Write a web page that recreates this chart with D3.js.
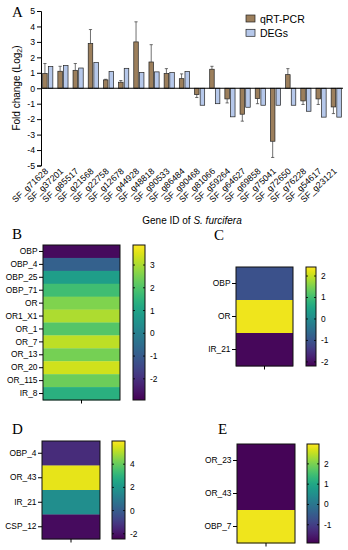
<!DOCTYPE html>
<html><head><meta charset="utf-8">
<script src="https://cdn.jsdelivr.net/npm/d3@7"></script>
<style>body{margin:0;background:#fff}svg{display:block}</style>
</head><body>
<script>
// ---- Panel A data ----
const genes = ["SF_g71628","SF_g37201","SF_g85517","SF_g21568","SF_g22758","SF_g12678","SF_g44928","SF_g48818","SF_g90533","SF_g86484","SF_g90468","SF_g81066","SF_g59264","SF_g64627","SF_g69858","SF_g75041","SF_g72650","SF_g76228","SF_g54617","SF_g23121"];
const qpcr = [0.95,1.1,1.16,2.89,0.54,0.39,3.0,1.7,0.95,0.62,-0.41,1.23,-0.69,-1.68,-0.67,-3.43,0.88,-0.82,-0.69,-1.21];
const qpcrErr = [0.65,0.32,0.44,0.91,0.04,0.11,1.3,1.12,0.32,0.31,0.19,0.19,0.26,0.45,0.33,1.05,0.39,0.23,0.36,0.43];
const degs = [1.4,1.47,1.31,1.66,1.08,1.29,1.01,1.06,1.01,1.08,-1.1,-1.0,-1.85,-1.23,-1.1,-1.1,-1.1,-1.49,-1.87,-1.87];
const seriesNames = ["qRT-PCR","DEGs"];
const yTicksA = [-5,-4,-3,-2,-1,0,1,2,3,4,5];

// ---- Heatmap data ----
const rowsB = ["OBP","OBP_4","OBP_25","OBP_71","OR","OR1_X1","OR_1","OR_7","OR_13","OR_20","OR_115","IR_8"];
const valsB = [-2.75,-0.85,0.85,1.8,2.55,3.05,2.05,3.2,2.45,3.4,2.35,1.4];
const domainB = [-2.93,3.88];
const ticksB = [-2,-1,0,1,2,3];

const rowsC = ["OBP","OR","IR_21"];
const valsC = [-1.05,2.3,-2.1];
const domainC = [-2.19,2.42];
const ticksC = [-2,-1,0,1,2];

const rowsD = ["OBP_4","OR_43","IR_21","CSP_12"];
const valsD = [-1.4,5.7,1.7,-2.2];
const domainD = [-2.45,6.0];
const ticksD = [-2,0,2,4];

const rowsE = ["OR_23","OR_43","OBP_7"];
const valsE = [-1.85,-1.85,2.85];
const domainE = [-1.9,2.98];
const ticksE = [-1,0,1,2];

const W = 348, H = 550;
const FONT = "'Liberation Sans', Arial, sans-serif";
const SERIF = "'Liberation Serif', 'Times New Roman', serif";
const svg = d3.select("body").append("svg").attr("width", W).attr("height", H)
  .style("font-family", FONT);

const colQ = "#9c7f5c", colD = "#b6c8ea";

// ================= Panel A =================
const y = d3.scaleLinear().domain([-5,5]).range([165.5, 11]);
const x0 = d3.scaleBand().domain(genes).range([41, 343]).paddingInner(0.33).paddingOuter(0.11);
const x1 = d3.scaleBand().domain(seriesNames).range([0, x0.bandwidth()]).paddingInner(0.2);

svg.append("text").attr("x", 12).attr("y", 17).attr("font-family", SERIF)
  .attr("font-size", 15).text("A");

const gA = svg.append("g");
const data = genes.map((g,i)=>({g, vals:[qpcr[i], degs[i]], err:qpcrErr[i]}));
const groups = gA.selectAll("g.grp").data(data).join("g").attr("class","grp")
  .attr("transform", d=>`translate(${x0(d.g)},0)`);
groups.selectAll("rect").data(d=>seriesNames.map((s,k)=>({s, v:d.vals[k]}))).join("rect")
  .attr("x", d=>x1(d.s)).attr("width", x1.bandwidth())
  .attr("y", d=>y(Math.max(0,d.v))).attr("height", d=>Math.abs(y(d.v)-y(0)))
  .attr("fill", d=>d.s==="qRT-PCR"?colQ:colD).attr("stroke","#222").attr("stroke-width",0.7);
groups.each(function(d){
  const g = d3.select(this);
  const cx = x1("qRT-PCR") + x1.bandwidth()/2;
  const v = d.vals[0];
  const e = v>=0 ? v + d.err : v - d.err;
  g.append("line").attr("x1",cx).attr("x2",cx).attr("y1",y(v)).attr("y2",y(e))
    .attr("stroke","#333").attr("stroke-width",0.7);
  g.append("line").attr("x1",cx-1.6).attr("x2",cx+1.6).attr("y1",y(e)).attr("y2",y(e))
    .attr("stroke","#333").attr("stroke-width",0.7);
});
gA.append("line").attr("x1",41).attr("x2",343).attr("y1",y(0)).attr("y2",y(0))
  .attr("stroke","#000").attr("stroke-width",1);
const yAx = gA.append("g").attr("transform","translate(41,0)")
  .call(d3.axisLeft(y).tickValues(yTicksA).tickFormat(d=>String(d)).tickSize(4).tickPadding(2));
yAx.selectAll("text").attr("font-size",8.7).attr("fill","#000").attr("font-family",FONT);
yAx.selectAll("line,path").attr("stroke","#000");
yAx.select("path").attr("stroke-width",1);
gA.selectAll("text.xl").data(genes).join("text").attr("class","xl")
  .attr("transform", d=>`translate(${x0(d)+x0.bandwidth()/2+1},172) rotate(-43)`)
  .attr("text-anchor","end").attr("font-size",8.8).text(d=>d);
svg.append("text").attr("x",192).attr("y",224).attr("text-anchor","middle").attr("font-size",10)
  .html('Gene ID of <tspan font-style="italic">S. furcifera</tspan>');
svg.append("text").attr("transform","translate(20,88) rotate(-90)").attr("text-anchor","middle")
  .attr("font-size",10).html('Fold change (Log<tspan font-size="7" dy="2">2</tspan><tspan dy="-2">)</tspan>');
const leg = svg.append("g");
seriesNames.forEach((s,i)=>{
  leg.append("rect").attr("x",246).attr("y",15+i*14.3).attr("width",9).attr("height",7)
    .attr("fill", i===0?colQ:colD).attr("stroke","#222").attr("stroke-width",0.7);
  leg.append("text").attr("x",260).attr("y",22.5+i*14.3).attr("font-size",10.5).text(s);
});

// ================= Heatmaps =================
let gradId = 0;
function heatmap(letter, lx, ly, rows, vals, domain, ticks, hx, hy, cbx){
  svg.append("text").attr("x",lx).attr("y",ly).attr("font-family",SERIF).attr("font-size",15).text(letter);
  const color = d3.scaleSequential(d3.interpolateViridis).domain(domain);
  const ys = d3.scaleBand().domain(rows).range(hy);
  const g = svg.append("g");
  g.selectAll("rect.cell").data(rows).join("rect").attr("class","cell")
    .attr("x",hx[0]).attr("width",hx[1]-hx[0])
    .attr("y",d=>ys(d)).attr("height",ys.bandwidth()+0.3)
    .attr("fill",(d,i)=>color(vals[i]));
  g.append("rect").attr("x",hx[0]).attr("y",hy[0]).attr("width",hx[1]-hx[0]).attr("height",hy[1]-hy[0])
    .attr("fill","none").attr("stroke","#111").attr("stroke-width",1);
  const ax = g.append("g").attr("transform",`translate(${hx[0]},0)`)
    .call(d3.axisLeft(ys).tickSize(4).tickPadding(1.5));
  ax.select("path").remove();
  ax.selectAll("text").attr("font-size",8.4).attr("fill","#000").attr("font-family",FONT);
  ax.selectAll("line").attr("stroke","#000");
  const cxm = (hx[0]+hx[1])/2;
  g.append("line").attr("x1",cxm).attr("x2",cxm).attr("y1",hy[1]).attr("y2",hy[1]+3.5).attr("stroke","#000");
  const id = "grad"+(gradId++);
  const lg = svg.append("defs").append("linearGradient").attr("id",id)
    .attr("x1",0).attr("y1",1).attr("x2",0).attr("y2",0);
  d3.range(0,1.0001,0.05).forEach(t=>{
    lg.append("stop").attr("offset",t).attr("stop-color",d3.interpolateViridis(t));
  });
  g.append("rect").attr("x",cbx[0]).attr("y",hy[0]).attr("width",cbx[1]-cbx[0]).attr("height",hy[1]-hy[0])
    .attr("fill",`url(#${id})`).attr("stroke","#111").attr("stroke-width",1);
  const cy = d3.scaleLinear().domain(domain).range([hy[1],hy[0]]);
  ticks.forEach(t=>{
    g.append("line").attr("x1",cbx[0]).attr("x2",cbx[0]+2).attr("y1",cy(t)).attr("y2",cy(t)).attr("stroke","#000").attr("stroke-width",0.8);
    g.append("line").attr("x1",cbx[1]-2).attr("x2",cbx[1]).attr("y1",cy(t)).attr("y2",cy(t)).attr("stroke","#000").attr("stroke-width",0.8);
    g.append("text").attr("x",cbx[1]+5).attr("y",cy(t)+3).attr("font-size",8.4).text(String(t));
  });
}
heatmap("B",12,239,rowsB,valsB,domainB,ticksB,[43,120],[245,400],[133,145]);
heatmap("C",214,240,rowsC,valsC,domainC,ticksC,[236,293],[267,366],[306,316]);
heatmap("D",12,434,rowsD,valsD,domainD,ticksD,[42,100],[441,539],[112,125]);
heatmap("E",218,434,rowsE,valsE,domainE,ticksE,[237,295],[444,543],[307,319]);
</script>
</body></html>
